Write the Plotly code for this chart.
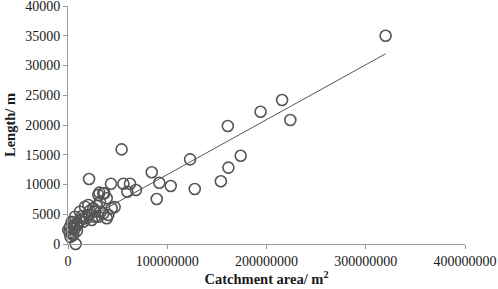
import plotly.graph_objects as go

# Catchment area (m2) and length (m)
area = [
    320e6, 161e6, 194e6, 215.7e6, 224e6,
    54e6, 123e6, 174e6, 161.6e6, 154e6,
    84.4e6, 92e6, 103.5e6, 127.7e6, 89.4e6,
    55.8e6, 62.5e6, 59.8e6, 68.5e6, 43.3e6,
    21.2e6, 35.6e6, 30.6e6, 39e6, 32.3e6,
    44e6, 39e6, 17.1e6, 25.5e6, 33e6,
    20.5e6, 27.2e6, 15.4e6, 7.7e6, 20.5e6,
    12e6, 7e6, 3.7e6, 2e6, 0.3e6,
    3.7e6, 5.3e6, 7e6, 8.8e6, 27.2e6,
    30.5e6, 23.9e6, 18.8e6, 15.4e6, 35.6e6,
    40.6e6, 1.5e6, 4.5e6, 6e6, 10e6,
    12.5e6, 22e6, 29e6, 36.6e6, 31.6e6,
    5e6, 2.5e6, 9e6, 14e6, 47e6,
]
length = [
    35000, 19830, 22230, 24200, 20840,
    15900, 14230, 14840, 12840, 10540,
    12050, 10300, 9750, 9240, 7560,
    10130, 10130, 8790, 9070, 10130,
    10920, 8520, 8240, 7680, 7110,
    6000, 4320, 6270, 6000, 5430,
    4870, 4590, 4320, 0, 6550,
    5430, 4590, 3750, 2910, 2350,
    1800, 1510, 2630, 3480, 5430,
    4590, 4030, 4320, 3750, 5150,
    4870, 2000, 2600, 3100, 3300,
    4000, 5600, 6400, 8520, 8630,
    3600, 1200, 2200, 4700, 6200,
]

# Linear trend line parameters
trend_x = [1e6, 320e6]
slope = 9.23e-5
intercept = 2434
trend_y = [intercept + slope * x for x in trend_x]

x_ticks = [0, 100e6, 200e6, 300e6, 400e6]
x_tick_text = ["0", "100000000", "200000000", "300000000", "400000000"]
y_ticks = [0, 5000, 10000, 15000, 20000, 25000, 30000, 35000, 40000]
y_tick_text = [str(v) for v in y_ticks]

fig = go.Figure()
fig.add_trace(go.Scatter(
    x=area, y=length, mode="markers",
    marker=dict(symbol="circle-open", size=11, color="#555555",
                line=dict(width=1.6, color="#555555")),
    cliponaxis=False, showlegend=False,
))
fig.add_trace(go.Scatter(
    x=trend_x, y=trend_y, mode="lines",
    line=dict(color="#555555", width=1),
    showlegend=False,
))

font_family = "Liberation Serif"
tick_font = dict(family=font_family, size=14, color="#1a1a1a")
title_font = dict(family=font_family, size=14.5, color="#1a1a1a")
fig.update_layout(
    width=498, height=289,
    margin=dict(l=68, r=33, t=6, b=45),
    plot_bgcolor="white", paper_bgcolor="white",
    font=dict(family=font_family, size=14, color="#1a1a1a"),
    xaxis=dict(
        range=[0, 400e6], tickvals=x_ticks, ticktext=x_tick_text,
        tickfont=tick_font, ticklabeloverflow="allow",
        showgrid=False, zeroline=False, automargin=False,
        showline=True, linecolor="#9a9a9a", linewidth=1,
        ticks="outside", ticklen=4, tickcolor="#9a9a9a",
        title=dict(text="<b>Catchment area/ m<sup>2</sup></b>",
                   font=title_font, standoff=5),
    ),
    yaxis=dict(
        range=[0, 40000], tickvals=y_ticks, ticktext=y_tick_text,
        tickfont=tick_font, ticklabeloverflow="allow",
        showgrid=False, zeroline=False, automargin=False,
        showline=True, linecolor="#9a9a9a", linewidth=1,
        ticks="outside", ticklen=4, tickcolor="#9a9a9a",
        title=dict(text="<b>Length/ m</b>",
                   font=title_font, standoff=6),
    ),
)

fig.write_html("out.html",
               config={"displayModeBar": False},
               post_script="document.body.style.margin='0';document.body.style.overflow='hidden';")
